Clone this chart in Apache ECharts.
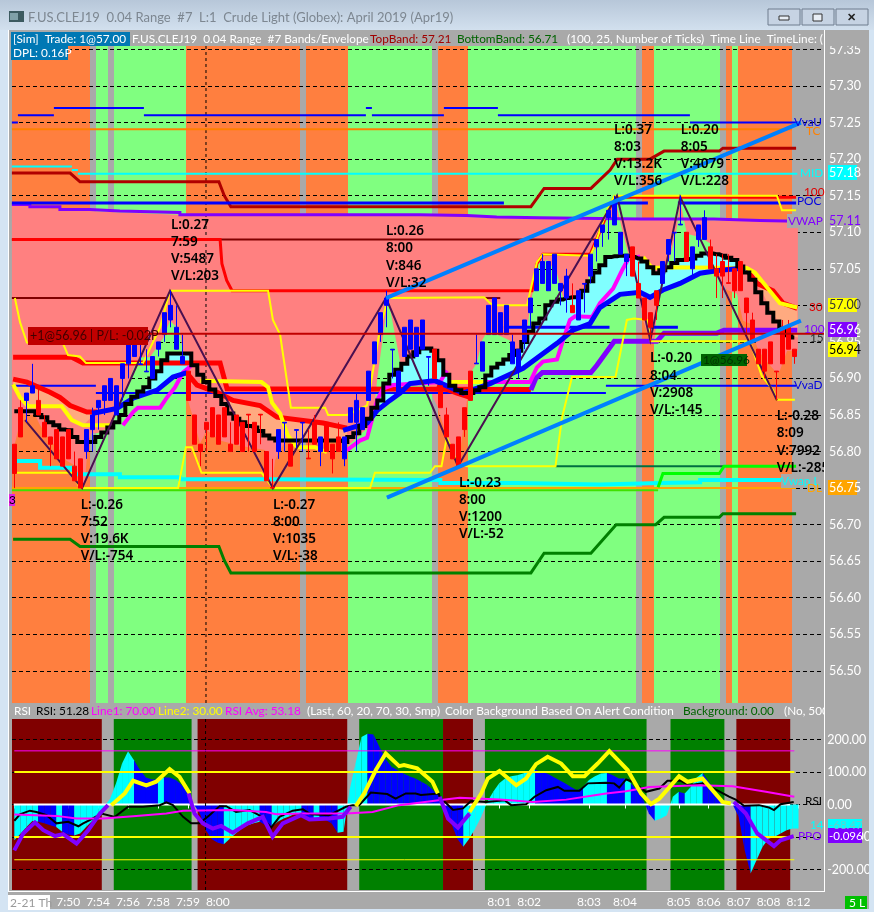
<!DOCTYPE html>
<html><head><meta charset="utf-8">
<style>html,body{margin:0;padding:0;background:#a9a9a9}#c{width:874px;height:912px}</style>
<script src="https://cdn.jsdelivr.net/npm/echarts@6/dist/echarts.min.js"></script>
</head><body><div id="c"></div>
<script>
// ---------- DATA (bar index, price / oscillator value) ----------
const priceTicks=[57.35,57.30,57.25,57.20,57.15,57.10,57.05,57.00,56.95,56.90,56.85,56.80,56.75,56.70,56.65,56.60,56.55,56.50];
const oscTicks=[200,100,0,-100,-200];
const timeTickBars=[0,9,14,19,24,29,34,81,86,96,102,111,116,121,126,131];
const timeTickLabels=['','7:50','7:54','7:56','7:58','7:59','8:00','8:01','8:02','8:03','8:04','8:05','8:06','8:07','8:08','8:12'];
// [open, close, low, high] for each bar
const ohlc=[
[56.81,56.77,56.75,56.81],[56.86,56.82,56.82,56.87],[56.87,56.88,56.84,56.88],[56.88,56.89,56.88,56.92],[56.87,56.85,56.85,56.89],
[56.84,56.82,56.82,56.85],[56.82,56.81,56.78,56.82],[56.83,56.79,56.79,56.83],[56.82,56.78,56.78,56.82],[56.83,56.79,56.79,56.83],
[56.78,56.76,56.76,56.80],[56.79,56.75,56.75,56.79],[56.80,56.83,56.79,56.83],[56.83,56.85,56.80,56.86],[56.86,56.87,56.83,56.87],
[56.87,56.89,56.85,56.89],[56.87,56.90,56.87,56.90],[56.85,56.89,56.85,56.89],[56.90,56.92,56.87,56.92],[56.92,56.95,56.90,56.95],
[56.93,56.95,56.93,56.95],[56.919,56.92,56.92,56.96],[56.909,56.91,56.91,56.94],[56.90,56.93,56.90,56.93],[56.94,56.95,56.93,56.95],
[56.96,56.99,56.95,56.99],[56.98,57.00,56.97,57.02],[56.94,56.97,56.94,57.00],[56.92,56.93,56.92,56.96],[56.91,56.87,56.87,56.91],
[56.85,56.81,56.81,56.85],[56.81,56.80,56.78,56.81],[56.84,56.83,56.80,56.84],[56.86,56.82,56.82,56.86],[56.85,56.81,56.81,56.85],
[56.86,56.82,56.82,56.86],[56.81,56.80,56.80,56.84],[56.85,56.81,56.81,56.85],[56.84,56.80,56.80,56.84],[56.851,56.85,56.80,56.85],
[56.84,56.80,56.80,56.84],[56.851,56.85,56.81,56.85],[56.80,56.76,56.76,56.80],[56.751,56.75,56.75,56.79],[56.80,56.83,56.79,56.83],
[56.839,56.84,56.80,56.84],[56.81,56.78,56.78,56.81],[56.829,56.83,56.805,56.83],[56.839,56.84,56.80,56.84],[56.791,56.79,56.79,56.83],
[56.84,56.81,56.81,56.85],[56.80,56.82,56.78,56.82],[56.84,56.80,56.80,56.84],[56.81,56.79,56.77,56.81],[56.82,56.80,56.80,56.84],
[56.79,56.82,56.78,56.82],[56.84,56.86,56.84,56.86],[56.84,56.87,56.80,56.88],[56.83,56.86,56.83,56.86],[56.87,56.91,56.87,56.91],
[56.92,56.95,56.92,56.95],[56.96,56.99,56.95,56.99],[57.00,57.01,56.97,57.02],[56.939,56.94,56.90,56.94],[56.88,56.91,56.88,56.91],
[56.93,56.97,56.93,56.97],[56.94,56.98,56.94,56.98],[56.93,56.97,56.93,56.97],[56.94,56.98,56.94,56.98],[56.929,56.93,56.89,56.93],
[56.94,56.90,56.90,56.94],[56.89,56.86,56.86,56.89],[56.85,56.82,56.82,56.86],[56.81,56.79,56.79,56.81],[56.82,56.78,56.78,56.82],
[56.86,56.83,56.82,56.86],[56.91,56.87,56.87,56.91],[56.92,56.921,56.92,56.96],[56.91,56.95,56.91,56.95],[56.96,57.00,56.96,57.00],
[56.96,57.01,56.96,57.01],[56.96,56.99,56.96,56.99],[56.96,57.00,56.96,57.00],[56.92,56.95,56.92,56.96],[56.91,56.94,56.90,56.94],
[56.95,56.98,56.94,56.98],[56.99,57.01,56.97,57.01],[57.02,57.05,57.02,57.05],[57.03,57.06,57.03,57.07],[57.02,57.06,57.02,57.06],
[57.03,57.07,57.03,57.07],[57.02,57.03,57.00,57.03],[57.01,57.04,56.99,57.05],[57.00,56.99,56.99,57.03],[56.98,57.02,56.98,57.02],
[57.029,57.03,56.99,57.03],[57.04,57.07,57.03,57.07],[57.08,57.09,57.06,57.09],[57.10,57.11,57.08,57.11],[57.12,57.13,57.09,57.13],
[57.11,57.14,57.11,57.15],[57.07,57.10,57.07,57.10],[57.06,57.07,57.04,57.07],[57.08,57.04,57.04,57.08],[57.03,57.01,57.01,57.06],
[57.01,56.98,56.98,57.01],[56.99,56.97,56.95,56.99],[57.02,57.00,56.98,57.02],[57.03,57.06,57.03,57.06],[57.07,57.09,57.06,57.09],
[57.099,57.10,57.06,57.10],[57.11,57.111,57.11,57.15],[57.10,57.06,57.06,57.10],[57.05,57.08,57.04,57.08],[57.09,57.11,57.08,57.11],
[57.09,57.12,57.09,57.13],[57.08,57.05,57.05,57.09],[57.05,57.04,57.01,57.07],[57.06,57.04,57.01,57.07],[57.031,57.03,57.03,57.07],
[57.05,57.02,57.01,57.05],[57.06,57.02,57.02,57.06],[57.01,56.99,56.96,57.01],[56.98,56.95,56.95,56.99],[56.94,56.92,56.92,56.94],
[56.94,56.91,56.90,56.94],[56.95,56.92,56.92,56.95],[56.91,56.909,56.87,56.91],[56.97,56.92,56.92,56.98],[56.97,56.94,56.94,56.98],
[56.94,56.93,56.92,56.94]];
// level lines: [from bar, value]; each level holds until the next entry
const vvaULevels=[[-.4,57.25],[.6,57.26],[6.6,57.27],[21.6,57.26],[58.6,57.27],[59.6,57.26],[71.6,57.27],[80.6,57.26],[112.6,57.25]];
const vvaUEnd=130.6;
const vvaDLevels=[[-.4,56.89],[13.6,56.88],[98.6,56.89]];
const vvaDEnd=130.3;
const midLevels=[[-.4,57.19],[9.6,57.185],[10.6,57.18]];
const midEnd=130.5;
const tcLevel=[[-.4,57.241],[129.6,57.241]];
const topBand=[[-.4,57.181],[9.3,57.181],[10.95,57.169],[34.1,57.169],[35,57.15],[36.1,57.135],[86.1,57.135],[88.3,57.16],[96.1,57.16],[99.3,57.185],[100.5,57.2],[105.95,57.2],[108.3,57.211],[117.5,57.211],[118.1,57.215],[130.3,57.215]];
const bottomBand=[[-.2,56.68],[9.3,56.68],[10.95,56.67],[34.1,56.67],[35,56.651],[36.1,56.634],[86.1,56.634],[88.3,56.661],[96.1,56.661],[100.3,56.70],[106.9,56.70],[108.3,56.71],[117.5,56.71],[118.1,56.715],[130.3,56.715]];
const pocSegments=[[[-.4,57.14],[81.6,57.14]],[[81.6,56.97],[99.2,56.97]],[[100,57.14],[105.6,57.14]],[[105.6,56.97],[110.6,56.97]],[[110.6,57.14],[130.3,57.14]]];
const vwap=[[-.4,57.138],[2.6,57.135],[7.6,57.131],[12.6,57.129],[17.6,57.127],[27.6,57.124],[67.6,57.123],[75.4,57.121],[80.4,57.12],[87.6,57.118],[104.3,57.118],[116.6,57.116],[124.3,57.115],[130.6,57.114]];
const vwapLow=[[.45,56.787],[4.3,56.778],[9.6,56.769],[17.6,56.765],[27.6,56.762],[41,56.761],[71,56.757],[83.8,56.755],[97.6,56.757],[107.6,56.758],[114.3,56.761],[124.3,56.761],[130.6,56.758]];
const dlLevel=[[-.4,56.75],[130.3,56.75]];
const limeLevel=[[-.4,56.747],[107.3,56.747]];
const tealLevel=[[90.2,56.78],[118.3,56.78]];
const limeBand=[[107.3,56.751],[108.1,56.77],[117.5,56.77],[118.3,56.78],[130.3,56.78]];
const darkRedA=[[-.4,57.09],[97,57.09]];
const darkRedB=[[-.4,57.01],[25.6,57.01]];
const darkRedC=[[78.4,57.01],[81,57.01]];
const positionLine=[[22.3,56.961],[135,56.961]];
const redUpper=[[-.4,57.09],[34.3,57.09],[34.6,57.057],[35.4,57.034],[36.3,57.02],[86.3,57.02],[87.1,57.057],[88.1,57.07],[96,57.07],[100,57.148],[130.3,57.148]];
const redThick=[[-.2,56.929],[9.6,56.929],[11.45,56.921],[34.3,56.921],[35.45,56.886],[86.1,56.885]];
const purpleBand=[[86.1,56.884],[86.9,56.9],[88,56.908],[96.1,56.908],[97.1,56.918],[100,56.951],[107.1,56.951],[108.3,56.962],[117.1,56.962],[118.3,56.966],[130.5,56.966]];
const yellowTop=[[.1,57.01],[.95,56.977],[2.1,56.949],[8.1,56.948],[8.95,56.932],[10.95,56.93],[11.95,56.921],[21.45,56.921],[24.3,56.97],[25.95,57.02],[42.3,57.02],[43.1,56.98],[44.3,56.96],[46.1,56.86],[51.8,56.86],[52.3,56.85],[55.45,56.85],[58.8,56.863],[61,56.97],[62.3,57.01],[78.3,57.011],[79.3,57.003],[80.1,57.0],[85.45,57.0],[87.1,57.059],[88.1,57.07],[96,57.068],[96.6,57.079],[97.6,57.103],[98.8,57.13],[100,57.15],[127.1,57.15],[127.95,57.13],[130.3,57.13]];
const yellowBottom=[[-.2,56.771],[9.6,56.771],[10.95,56.75],[27.3,56.75],[28.6,56.806],[29.6,56.806],[31.2,56.771],[41.2,56.771],[43.1,56.75],[59.3,56.75],[60.1,56.771],[69.3,56.771],[70.1,56.78],[71.2,56.78],[72.1,56.82],[73.1,56.798],[73.95,56.782],[75.6,56.78],[90.2,56.78],[91.3,56.847],[92.95,56.902],[100.2,56.902],[102.1,56.98],[103.3,56.982],[105.45,56.98],[106.05,56.951],[122.6,56.951],[124.55,56.904],[126.45,56.884],[127.05,56.871],[130.1,56.871]];
const yellowThickA=[[-.2,56.892],[.95,56.874],[2.3,56.862],[7.9,56.862],[9.6,56.843],[11.45,56.836],[15.95,56.836]];
const yellowThickB=[[31,56.897],[41.2,56.895],[42.3,56.888],[42.95,56.867],[44.3,56.852],[45.1,56.833],[45.6,56.822],[47.1,56.806],[50.1,56.806],[52.1,56.799]];
const yellowThickC=[[72.6,56.895],[78.3,56.895]];
const yellowThickD=[[104.8,57.066],[106.3,57.051],[109.3,57.052],[122.1,57.051],[123.45,57.045],[127.6,57.003],[130.5,56.997]];
const redMaA=[[-.2,56.899],[2.1,56.895],[5.95,56.881],[7.6,56.874],[9.3,56.863],[12.1,56.854],[13.8,56.854]];
const redMaB=[[28.8,56.907],[30.45,56.891],[33.8,56.881],[36.45,56.87],[40.95,56.863],[43.8,56.847],[51.45,56.839],[55.45,56.832]];
const redMaC=[[70.45,56.89],[73.8,56.88],[76,56.874]];
const redMaD=[[122.1,57.048],[123.8,57.03],[126.45,57.02],[128.1,57.003],[130.5,56.996]];
const magentaA=[[18.1,56.836],[19.8,56.854],[20.6,56.86],[24.3,56.86],[25.45,56.874],[26.8,56.888],[28.1,56.908],[29.4,56.917]];
const magentaB=[[55.45,56.802],[57.6,56.815],[58.8,56.819],[60.45,56.87],[61.45,56.886],[63.1,56.891],[70.95,56.895],[72.1,56.911]];
const magentaC=[[78.8,56.895],[85.95,56.895],[87.1,56.915],[88.1,56.923],[90.45,56.926],[91.45,56.952],[92.6,56.98],[93.45,56.985],[96.3,56.984],[97.6,57.003],[99.8,57.023],[101.3,57.048],[102.3,57.063],[104.3,57.067]];
const blueMaA=[[12.95,56.852],[17.1,56.859],[19.8,56.873],[23.8,56.884],[26.45,56.902],[28.8,56.908]];
const blueMaB=[[54.8,56.829],[58.8,56.839],[60.45,56.856],[62.6,56.87],[64.3,56.88],[65.95,56.893],[70.1,56.897],[74.8,56.88],[79.3,56.893],[84.8,56.914],[90.45,56.948],[93.1,56.966],[95.95,56.975],[97.6,56.997],[100.95,57.015],[104.3,57.018],[105.95,57.011],[108.1,57.021],[110.95,57.03],[114.3,57.044],[117.6,57.048],[121.8,57.051]];
// the black stair line, one value per bar
const blackMa=[56.855,56.855,56.855,56.855,56.85,56.847,56.84,56.836,56.83,56.829,56.82,56.813,56.813,56.813,56.82,56.826,56.833,56.84,56.85,56.865,56.875,56.882,56.888,56.9,56.91,56.925,56.934,56.934,56.934,56.934,
56.918,56.905,56.895,56.885,56.876,56.865,56.852,56.845,56.84,56.835,56.833,56.828,56.822,56.818,56.815,56.815,56.815,56.815,56.815,56.815,56.815,56.815,56.815,56.815,56.815,56.813,56.82,56.825,56.835,56.845,
56.86,56.87,56.893,56.905,56.912,56.92,56.93,56.936,56.941,56.941,56.938,56.925,56.905,56.89,56.884,56.88,56.88,56.884,56.888,56.904,56.915,56.92,56.926,56.932,56.938,56.95,56.964,56.975,56.982,57.0,
57.005,57.008,57.01,57.011,57.011,57.02,57.033,57.045,57.055,57.066,57.067,57.068,57.068,57.066,57.064,57.06,57.052,57.044,57.048,57.052,57.058,57.062,57.063,57.064,57.068,57.071,57.071,57.07,57.068,57.065,
57.062,57.053,57.045,57.035,57.018,57.003,56.99,56.978,56.968,56.959,56.956];
const zigzag=[[1.8,56.843],[11.3,56.75],[25.95,57.02],[43.1,56.75],[61.95,57.01],[73.95,56.78],[100.45,57.15],[106,56.952],[111,57.148],[127.1,56.87]];
const trendUpper=[[61.95,57.01],[131.1,57.25]];
const trendLower=[[62.1,56.737],[131.1,56.979]];
const envelope=[[-.4,56.802],[0,56.808],[1.3,56.851],[3.45,56.85],[4.3,56.836],[5.95,56.815],[7.6,56.802],[8.6,56.788],[10.1,56.781],[11.3,56.75],[11.8,56.761],[12.3,56.815],[12.95,56.826],[13.8,56.825],[15.95,56.833],[17.3,56.866],[18.45,56.88],[20.1,56.918],[20.95,56.929],[22.6,56.929],[24.8,56.955],[25.95,56.979],[27.6,56.966],[28.1,56.934],[28.8,56.911],[28.95,56.87],[29.6,56.852],[30.95,56.811],[32.1,56.829],[34.3,56.815],[37.6,56.808],[41.8,56.802],[42.1,56.761],[42.95,56.751],[43.45,56.788],[45.45,56.819],[55.45,56.819],[55.6,56.808],[59.8,56.839],[60.45,56.897],[62.3,57.01],[64.3,56.922],[67.1,56.915],[69.3,56.888],[69.8,56.874],[70.6,56.86],[72.1,56.819],[73.95,56.778],[75.45,56.87],[76.3,56.911],[77.1,56.921],[77.95,56.952],[78.95,56.966],[82.6,56.952],[83.45,56.925],[85.1,56.943],[85.95,56.997],[87.3,57.057],[88.8,57.062],[90.45,57.044],[91.45,57.011],[95.45,56.997],[95.95,57.071],[97.1,57.079],[98.95,57.13],[100.1,57.148],[101.3,57.103],[102.6,57.062],[103.8,57.03],[104.8,56.979],[105.95,56.952],[106.8,56.956],[107.3,57.03],[109.3,57.066],[110.45,57.107],[110.95,57.144],[112.1,57.098],[114.3,57.093],[115.95,57.085],[116.45,57.048],[118.8,57.021],[120.45,57.016],[121.45,56.979],[122.6,56.975],[123.8,56.943],[124.8,56.929],[127.1,56.907],[127.6,56.911],[128.8,56.938],[130.6,56.938]];
const peachMidLower=[[34.8,56.874],[36.8,56.85],[40.45,56.833],[42.1,56.822],[43.8,56.815],[55.45,56.813]];
const peachRightLower=[[122.6,57.045],[124.8,57.016],[126.3,56.99],[127.6,56.975],[129.3,56.959],[130.6,56.956]];
// [first bar, last bar, state]
const priceBands=[[0,12,'o'],[13,13,'g'],[14,15,'l'],[16,16,'g'],[17,28,'l'],[29,47,'o'],[48,48,'g'],[49,55,'o'],[56,69,'l'],[70,70,'g'],[71,75,'o'],[76,103,'l'],[104,104,'g'],[105,106,'o'],[107,117,'l'],[118,118,'g'],[119,119,'o'],[120,120,'l'],[121,129,'o']];
const oscBands=[[0,14,'r'],[17,29,'v'],[31,55,'r'],[58,71,'v'],[72,76,'r'],[79,105,'v'],[110,118,'v'],[121,129,'r']];
const bandColor={o:'#ff7f3f',l:'#80ff80',g:'#a9a9a9',r:'#800000',v:'#008000'};
const histValues=[-110,-91,-70,-51,-53,-58,-64,-69,-84,-92,-95,-89,-69,-51,-33,-7,18,65,126,164,136,106,83,77,77,83,83,75,60,34,0,-28,-79,-107,-118,-122,-105,-89,-74,-64,-58,-53,-64,-69,-53,-43,-36,-28,-33,-43,-48,-43,-48,-58,-87,-84,44,126,208,218,215,177,141,116,106,95,87,80,70,60,44,24,-12,-58,-105,-130,-105,-74,-38,8,39,65,80,87,90,95,104,108,100,95,85,75,65,54,44,54,75,87,95,97,90,80,80,65,44,18,-28,-50,-43,-33,24,39,34,54,83,97,70,44,18,8,0,-38,-140,-212,-171,-130,-105,-99,-89,-79,-74];
const histBlueSpans=[[4,6],[8,9],[20,23],[25,34],[41,42],[48,49],[51,53],[59,74],[87,94],[99,101],[103,106],[111,111],[115,122]];
const rsiLine=[[0,-50],[.95,-30],[2.6,-19],[3.7,-23],[5.4,-33],[7.05,-58],[9,-53],[10.7,-67],[11.5,-58],[12.6,-48],[14.55,-28],[16.8,-38],[19,-7],[21.5,-7],[24.3,-2],[25.4,7],[26.5,-2],[28.2,-38],[29.55,-58],[30.95,-58],[32.6,-33],[34.3,-5],[35.4,-5],[37.05,-23],[39.3,-17],[41.2,-36],[42.9,-71],[44.3,-38],[46.5,-19],[48.2,-15],[49.55,-30],[52.6,-33],[55.4,-7],[56.5,-2],[57.6,-2],[59.55,37],[62.3,32],[63.7,18],[65.4,34],[67.05,34],[67.9,29],[70.9,34],[71.05,24],[73.3,-17],[74.95,-12],[76.3,11],[78.85,8],[81.9,13],[83,-2],[85.5,1],[86.9,24],[88.85,44],[90.8,54],[91.9,42],[94.4,42],[95.8,65],[98.85,67],[100.2,65],[101.05,52],[102.2,77],[103.3,70],[105.5,39],[107.75,49],[109.1,73],[111.35,73],[112.7,59],[114.95,65],[117.2,46],[119.4,24],[120.5,15],[121.9,-4],[124.4,-2],[126.05,-9],[126.9,-17],[128,1],[130.2,8]];
const oscYellowA=[[16.2,-2],[18.45,34],[19.85,73],[22.05,59],[23.7,70],[25.95,109],[27.6,85],[29.3,34]];
const oscYellowB=[[57.05,-5],[58.45,34],[60.4,106],[62.05,157],[64.3,118],[65.1,121],[67.3,111],[69.85,70],[70.75,34]];
const oscYellowC=[[76.05,-23],[78,34],[79.1,80],[81.05,103],[83.85,59],[85.5,80],[87.15,124],[89.1,147],[91.35,126],[93.3,87],[95.25,87],[97.45,126],[99.4,164],[102.45,106],[104.7,34],[106.35,1],[107.75,18],[111.05,87],[112.45,70],[114.95,80],[118.3,8],[119.7,3]];
const oscPurpleA=[[0,-141],[1.5,-89],[3.45,-55],[4.85,-79],[6.8,-97],[8.15,-91],[10.4,-120],[12.35,-79],[14.3,-28],[15.65,-2]];
const oscPurpleB=[[29.1,34],[30.1,-28],[31.5,-58],[33.15,-74],[34.55,-66],[36.5,-87],[39,-58],[41.5,-38],[43.15,-99],[44.85,-58],[47.9,-33],[49.3,-46],[52.6,-43],[54.85,-38],[56.2,-7]];
const oscPurpleC=[[71.05,24],[72.45,-43],[74.1,-71],[76.05,-28]];
const oscPurpleD=[[120.2,8],[122.2,-28],[124.1,-89],[126.9,-128],[128,-110],[130.2,-97]];
const rsiAvg=[[0,-31],[7.05,-35],[10.4,-43],[14.85,-43],[19.85,-36],[25.4,-28],[28.2,-19],[36.5,-17],[42.05,-23],[43.7,-30],[47.9,-28],[55.4,-28],[59.85,-23],[64.3,-2],[70.9,13],[74.4,21],[81.05,15],[86.6,8],[92.2,15],[98.85,34],[102.2,41],[106.05,54],[114.4,59],[120,56],[125.55,39],[130.3,24]];
const oscLevels={zero:0,line1:100,line2:-100,upper:165,lower:-170};
const timeLineBar=31.95;
const pivotNotes=[
[26.1,57.122,'L:0.27\n7:59\nV:5487\nV/L:203'],[61.95,57.113,'L:0.26\n8:00\nV:846\nV/L:32'],
[99.95,57.252,'L:0.37\n8:03\nV:13.2K\nV/L:356'],[111.07,57.252,'L:0.20\n8:05\nV:4079\nV/L:228'],
[11.07,56.739,'L:-0.26\n7:52\nV:19.6K\nV/L:-754'],[43.1,56.739,'L:-0.27\n8:00\nV:1035\nV/L:-38'],
[74.1,56.769,'L:-0.23\n8:00\nV:1200\nV/L:-52'],[105.95,56.939,'L:-0.20\n8:04\nV:2908\nV/L:-145'],
[127.07,56.86,'L:-0.28\n8:09\nV:7992\nV/L:-285']];

// ---------- RENDER ----------
const FONT='Lato,"Noto Sans",sans-serif';
const NOTEFONT='"Noto Sans",sans-serif';
const xMin=-0.383, xMax=134.95;
const yMax=57.3548, yMin=56.456;
const oscMax=263, oscMin=-263;
const isBlue=i=>histBlueSpans.some(s=>i>=s[0]&&i<=s[1]);
const blackPts=blackMa.map((v,i)=>[i,v]);
// turn "level from bar" lists into separate horizontal pieces with gaps
const pieces=(levels,end)=>{const out=[];levels.forEach((l,i)=>{const e=i+1<levels.length?levels[i+1][0]:end;out.push([l[0],l[1]],[e,l[1]]);if(i+1<levels.length)out.push([e,null]);});return out;};

function lineS(data,color,width,z,pane,extra){
  return Object.assign({type:'line',data,xAxisIndex:pane||0,yAxisIndex:pane||0,symbol:'none',silent:true,animation:false,
    lineStyle:{color,width,cap:'butt',join:'miter'},z,connectNulls:false},extra||{});
}
function bandsS(spans,pane){
  return {type:'custom',xAxisIndex:pane,yAxisIndex:pane,z:1,silent:true,animation:false,
    data:spans.map(s=>[s[0],s[1]]),encode:{x:[0,1]},
    renderItem(p,api){
      const a=api.coord([api.value(0)+xMin,0])[0], b=api.coord([api.value(1)+1+xMin,0])[0];
      return {type:'rect',shape:{x:a,y:p.coordSys.y,width:b-a,height:p.coordSys.height},style:{fill:bandColor[spans[p.dataIndex][2]]}};
    }};
}
function fillS(upper,lower,color,z){
  return {type:'custom',xAxisIndex:0,yAxisIndex:0,z,silent:true,animation:false,data:[[upper[0][0],upper[0][1]]],
    renderItem(p,api){
      const pts=upper.concat(lower.slice().reverse()).map(d=>api.coord(d));
      return {type:'polygon',shape:{points:pts},style:{fill:color}};
    }};
}
const series=[
  bandsS(priceBands,0),bandsS(oscBands,1),
  fillS(vwap,envelope,'#ff8080',3),
  fillS(redMaA,yellowThickA.slice(0,6),'#ffaa80',3.1),
  fillS(redMaB.slice(2),peachMidLower,'#ffaa80',3.1),
  fillS(yellowThickD.slice(3),peachRightLower,'#ffaa80',3.1),
  fillS(blackPts.slice(20,30),blueMaA.slice(2).concat([[29.4,56.917]]),'#80ffff',3.2),
  fillS(blackPts.slice(59,123),blueMaB.slice(2),'#80ffff',3.2),
  lineS(tcLevel,'#ff8000',2,4),
  lineS(pieces(vvaULevels,vvaUEnd),'#0000ff',2,4),
  lineS(pieces(vvaDLevels,vvaDEnd),'#0000ff',2,4),
  lineS(pieces(midLevels,midEnd),'#00ffff',2,4),
  lineS(topBand,'#b00000',3,4),
  lineS(bottomBand,'#008000',3,4),
  lineS(darkRedA,'#800000',2,4),lineS(darkRedB,'#800000',2,4),lineS(darkRedC,'#800000',2,4),
  lineS(vwapLow,'#00ffff',4,4,0,{step:'end'}),
  lineS(limeLevel,'#40e000',2,4),lineS(dlLevel,'#ffa500',2,4.1),
  lineS(tealLevel,'#007040',2,4),lineS(limeBand,'#00ff00',3,4.1),
  lineS(redUpper,'#ff0000',3,4),
  lineS(redThick,'#ff0000',5,4.2),
  lineS(purpleBand,'#8000ff',5,4.2),
  lineS(vwap,'#8000ff',3,4.2,0,{step:'end'}),
  ...pocSegments.map(s=>lineS(s,'#0000ff',3,4.3)),
  lineS(yellowBottom,'#ffff00',2,4.4),
  lineS(yellowTop,'#ffff00',2,4.4),
  lineS(redMaA,'#ff0000',5,4.5),lineS(redMaB,'#ff0000',5,4.5),lineS(redMaC,'#ff0000',5,4.5),lineS(redMaD,'#ff0000',5,4.5),
  lineS(yellowThickA,'#ffff00',4,4.6),lineS(yellowThickB,'#ffff00',4,4.6),lineS(yellowThickC,'#ffff00',4,4.6),lineS(yellowThickD,'#ffff00',4,4.6),
  lineS(magentaA,'#ff00ff',4,4.7),lineS(magentaB,'#ff00ff',4,4.7),lineS(magentaC,'#ff00ff',4,4.7),
  lineS(blueMaA,'#0000ff',5,4.8),lineS(blueMaB,'#0000ff',5,4.8),
  lineS(blackPts,'#000000',4,4.9,0,{step:'middle'}),
  lineS(zigzag,'#4a1050',2,5),
  {type:'candlestick',xAxisIndex:0,yAxisIndex:0,z:6,silent:true,animation:false,barWidth:5,
    data:ohlc.map((d,i)=>[i,d[0],d[1],d[2],d[3]]),encode:{x:0,y:[1,2,3,4]},
    itemStyle:{color:'#0000ff',color0:'#ff0000',borderColor:'#0000ff',borderColor0:'#ff0000',borderWidth:1}},
  lineS(positionLine,'#c00000',2,6.5),
  lineS(trendUpper,'#0080ff',4,7),lineS(trendLower,'#0080ff',4,7),
  lineS([[timeLineBar,yMin],[timeLineBar,yMax]],'#000000',1,3.5,0,{lineStyle:{color:'#000',width:1,type:[3,3]}}),
  {type:'custom',xAxisIndex:0,yAxisIndex:0,z:8,silent:true,animation:false,clip:false,
    data:pivotNotes.map(n=>[n[0],n[1]]),
    renderItem(p,api){
      const c=api.coord([api.value(0),api.value(1)]);
      return {type:'text',x:c[0],y:c[1],style:{text:pivotNotes[p.dataIndex][2],fill:'#000',font:'600 13.5px '+NOTEFONT,lineHeight:17.2,textAlign:'left',textVerticalAlign:'top'}};
    }},
  // oscillator pane: filled curve, coloured piece by piece
  {type:'custom',xAxisIndex:1,yAxisIndex:1,z:3,silent:true,animation:false,
    data:histValues.map((v,i)=>[i,v]),
    renderItem(p,api){
      const i=p.dataIndex, v=histValues[i], n=i+1<histValues.length?histValues[i+1]:v;
      const pts=[[i,0],[i,v],[i+1,n],[i+1,0]].map(d=>api.coord(d));
      return {type:'polygon',shape:{points:pts},style:{fill:isBlue(i)?'#0000ff':'#00ffff'}};
    }},
  lineS([[-.1,oscLevels.zero],[129.6,oscLevels.zero]],'#ffffff',2,3.5,1),
  lineS([[0,oscLevels.line1],[130.3,oscLevels.line1]],'#ffff00',2,4,1),
  lineS([[0,oscLevels.line2],[130.3,oscLevels.line2]],'#ffff00',2,4,1),
  lineS([[0,oscLevels.upper],[130.3,oscLevels.upper]],'#ff00ff',1,4,1),
  lineS([[0,oscLevels.lower],[130.3,oscLevels.lower]],'#ffff00',1,4,1),
  lineS(rsiLine,'#000000',2,5,1),
  lineS(rsiAvg,'#ff00ff',2,5.1,1),
  lineS(oscYellowA,'#ffff00',4,5.2,1),lineS(oscYellowB,'#ffff00',4,5.2,1),lineS(oscYellowC,'#ffff00',4,5.2,1),
  lineS(oscPurpleA,'#8000ff',4,5.3,1),lineS(oscPurpleB,'#8000ff',4,5.3,1),lineS(oscPurpleC,'#8000ff',4,5.3,1),lineS(oscPurpleD,'#8000ff',4,5.3,1),
  lineS([[timeLineBar,oscMin],[timeLineBar,oscMax]],'#000000',1,3.6,1,{lineStyle:{color:'#000',width:1,type:[3,3]}})
];

const gtxt=(x,y,text,fill,o)=>Object.assign({type:'text',x,y,z:50,silent:true,style:Object.assign({text,fill,font:'11.8px '+FONT,textVerticalAlign:'middle',textAlign:'left'},o||{})});
const grect=(x,y,w,h,fill,z,o)=>({type:'rect',shape:{x,y,width:w,height:h},z:z||40,silent:true,style:Object.assign({fill},o||{})});

const graphicEls=[
  // window frame
  {type:'rect',shape:{x:0,y:0,width:874,height:30},z:40,silent:true,style:{fill:new echarts.graphic.LinearGradient(0,0,0,1,[{offset:0,color:'#b7c7d9'},{offset:1,color:'#d2e0ee'}])}},
  grect(0,30,8,882,'#d4e4f3'), grect(869,30,5,882,'#d4e4f3'), grect(0,909,874,3,'#d4e4f3'),
  grect(8,30,1,861,'#ffffff'), grect(8,891,816,1,'#ffffff'), grect(824,30,1,862,'#ffffff',46),
  grect(9,11,15,11,'#3c5a60'),grect(10,13,8,7,'#80a0a8'),
  gtxt(28,18,'F.US.CLEJ19  0.04 Range  #7  L:1  Crude Light (Globex): April 2019 (Apr19)','#7d8791',{font:'13px '+FONT}),
  grect(768,9,32,16,'#c6d3e3',41,{stroke:'#6f7d8e',lineWidth:1}),grect(802,9,32,16,'#c6d3e3',41,{stroke:'#6f7d8e',lineWidth:1}),grect(836,9,32,16,'#c6d3e3',41,{stroke:'#6f7d8e',lineWidth:1}),
  grect(779,16,10,4,'#e8eef5',42,{stroke:'#333',lineWidth:1}),grect(813,14,9,7,'#e8eef5',42,{stroke:'#333',lineWidth:1}),
  gtxt(847,17,'✕','#222',{font:'bold 11px '+FONT}),
  // top strip
  grect(9,30,815,16,'#a9a9a9',30),
  grect(11,32,119,14,'#0078b4',31),grect(11,46,57,14,'#0078b4',31),
  gtxt(13,39,'[Sim]  Trade: 1@57.00','#fff'),gtxt(13,53,'DPL: 0.16P','#fff'),
  gtxt(132,39,'F.US.CLEJ19  0.04 Range  #7 Bands/Envelope','#fff'),
  gtxt(370,39,'TopBand: 57.21','#a00000'),gtxt(457,39,'BottomBand: 56.71','#006400'),
  gtxt(567,39,'(100, 25, Number of Ticks)  Time Line  TimeLine: (','#fff'),
  grect(825,30,44,16,'#a9a9a9',51),
  // osc strip
  grect(9,703,815,16,'#a9a9a9',30),
  gtxt(14,711,'RSI','#fff'),gtxt(36,711,'RSI: 51.28','#000'),gtxt(91,711,'Line1: 70.00','#ff00ff'),gtxt(158,711,'Line2: 30.00','#ffff00'),gtxt(225,711,'RSI Avg: 53.18','#ff00ff'),
  gtxt(307,711,'(Last, 60, 20, 70, 30, Smp)','#fff'),gtxt(445,711,'Color Background Based On Alert Condition','#fff'),gtxt(683,711,'Background: 0.00','#006400'),gtxt(784,711,'(No, 500','#fff'),
  grect(825,703,44,16,'#a9a9a9',51),
  // order tags
  grect(28,327,120,18,'#c00000',44),gtxt(30,336,'+1@56.96 | P/L: -0.02P','#400000',{font:'12.5px '+FONT}),
  grect(701,354,46,12,'#006400',44),gtxt(703,360,'1@56.96','#003000'),
  grect(9,494,6,12,'#e020e0',44),gtxt(9,500,'3','#000'),
  // right labels inside pane
  gtxt(794,122,'VvaU','#0000e0'),gtxt(806,131,'TC','#ff8000'),gtxt(800,173,'MID','#00ffff'),gtxt(804,192,'100','#e00000'),
  gtxt(797,201,'POC','#0000e0'),grect(787,214,34,14,'#a9a9a9',44),gtxt(788,221,'VWAP','#8000ff'),gtxt(809,307,'30','#e00000'),
  gtxt(804,329,'100','#8000ff'),gtxt(810,338,'15','#333'),gtxt(794,385,'VvaD','#0000e0'),
  grect(781,474,40,14,'#a9a9a9',44),gtxt(781,481,'Vwap L','#00ffff'),gtxt(807,488,'DL','#ffa500'),
  gtxt(805,801,'RSI','#000'),gtxt(798,836,'PPO','#8000ff'),gtxt(810,825,'14','#00ffff'),
  // value tags on price axis
  gtxt(829,221,'57.11','#8000ff',{font:'12.5px '+FONT}),
  grect(828,165,29,15,'#00ffff',48),gtxt(829,173,'57.18','#fff',{font:'12.5px '+FONT}),
  grect(828,298,29,14,'#ffff00',48),gtxt(829,305,'57.00','#333',{font:'12.5px '+FONT}),
  grect(828,322,29,15,'#8000ff',48),gtxt(829,330,'56.96','#fff',{font:'12.5px '+FONT}),
  grect(828,342,29,15,'#ffff00',48),gtxt(829,350,'56.94','#000',{font:'12.5px '+FONT}),
  grect(828,480,29,15,'#ffa500',48),gtxt(829,488,'56.75','#fff',{font:'12.5px '+FONT}),
  grect(828,819,34,12,'#00ffff',48),gtxt(829,825,'-68.47','#60d0d0',{font:'11.5px '+FONT}),
  grect(828,828,34,15,'#8000ff',49),gtxt(829,836,'-0.096','#fff',{font:'11.5px '+FONT}),
  // cut the pivot note at the axis
  grect(825,458,44,18,'#a9a9a9',9),
  // footer
  grect(8,895,42,15,'#ffffff',48),gtxt(10,903,'2-21 Th','#9a9a9a',{font:'12px '+FONT}),
  grect(845,896,22,13,'#00c000',48),gtxt(849,903,'5 L','#fff',{font:'12px '+FONT})
];

const chart=echarts.init(document.getElementById('c'),null,{renderer:'canvas'});
chart.setOption({
  animation:false,backgroundColor:'#a9a9a9',graphic:{elements:graphicEls},
  grid:[{left:12,right:50,top:46,height:657},{left:12,right:50,top:719,height:171}],
  xAxis:[
    {type:'value',gridIndex:0,min:xMin,max:xMax,show:false},
    {type:'value',gridIndex:1,min:xMin,max:xMax,z:2,splitLine:{show:false},
     axisLine:{show:false},
     axisTick:{show:true,length:4,inside:false,lineStyle:{color:'#fff'},customValues:timeTickBars},
     axisLabel:{show:true,color:'#fff',fontFamily:FONT,fontSize:12,margin:6,customValues:timeTickBars,
       formatter:v=>timeTickLabels[timeTickBars.indexOf(Math.round(v))]||''}}
  ],
  yAxis:[
    {type:'value',gridIndex:0,position:'right',min:yMin,max:yMax,z:2,
     axisLine:{show:false},axisTick:{show:false,customValues:priceTicks},
     splitLine:{show:true,lineStyle:{color:'#000',width:1,type:[4,3]}},
     axisLabel:{color:'#fff',fontFamily:FONT,fontSize:12.5,margin:5,customValues:priceTicks,formatter:v=>v.toFixed(2)}},
    {type:'value',gridIndex:1,position:'right',min:oscMin,max:oscMax,z:2,
     axisLine:{show:false},axisTick:{show:false,customValues:oscTicks},
     splitLine:{show:true,lineStyle:{color:'#000',width:1,type:[4,3]}},
     axisLabel:{color:'#fff',fontFamily:FONT,fontSize:12.5,margin:5,customValues:oscTicks,formatter:v=>v.toFixed(2)}}
  ],
  series
});
</script></body></html>
